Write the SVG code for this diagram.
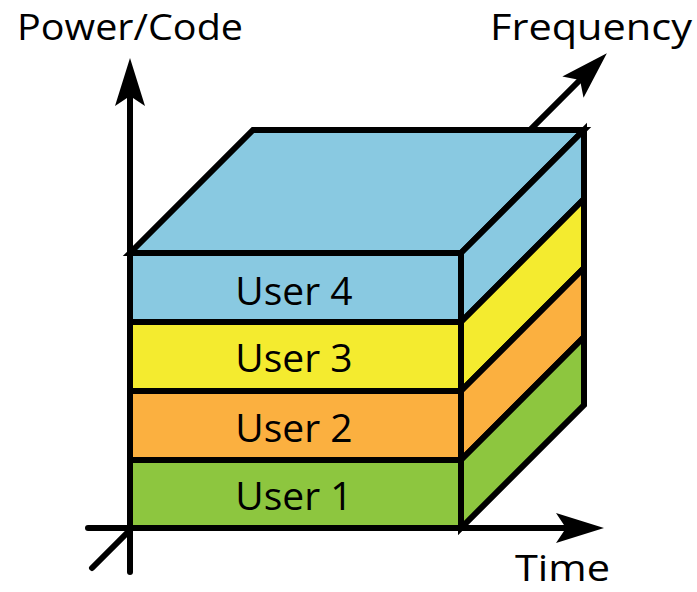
<svg xmlns="http://www.w3.org/2000/svg" width="697" height="592" viewBox="0 0 697 592">
<style>
.face{stroke:#000;stroke-width:6;stroke-linejoin:miter}
.axis{fill:none;stroke:#000;stroke-width:6;stroke-linecap:round}
.lbl{font-family:"Open Sans","Liberation Sans",sans-serif;font-size:37px;fill:#000}
.ulbl{font-family:"Open Sans","Liberation Sans",sans-serif;font-size:39px;fill:#000;text-anchor:middle}
.blue{fill:#89C9E1}.yellow{fill:#F4EB2F}.orange{fill:#FBB040}.green{fill:#8DC63F}
</style>
<defs>
<marker id="arrow" markerUnits="userSpaceOnUse" viewBox="-2 -16 52 32" refX="0" refY="0" markerWidth="52" markerHeight="32" orient="auto" overflow="visible">
<path d="M-10,-15 L38,0 L-10,15 L0,0 Z" fill="#000"/>
</marker>
</defs>
<rect width="697" height="592" fill="#fff"/>
<g id="connectors">
<line class="axis" x1="92" y1="568" x2="580" y2="80" marker-end="url(#arrow)"/>
<line class="axis" x1="130" y1="572" x2="130" y2="96" marker-end="url(#arrow)"/>
<line class="axis" x1="88" y1="528" x2="566" y2="528" marker-end="url(#arrow)"/>
</g>
<g id="top-face">
<polygon class="face blue" points="130,253 253,130 584,130 461,253"/>
</g>
<g id="user4">
<rect class="face blue" x="130" y="253" width="331" height="69"/>
<polygon class="face blue" points="461,253 584,130 584,199 461,322"/>
<text class="ulbl" x="294" y="305">User 4</text>
</g>
<g id="user3">
<rect class="face yellow" x="130" y="322" width="331" height="69"/>
<polygon class="face yellow" points="461,322 584,199 584,268 461,391"/>
<text class="ulbl" x="294" y="372">User 3</text>
</g>
<g id="user2">
<rect class="face orange" x="130" y="391" width="331" height="69"/>
<polygon class="face orange" points="461,391 584,268 584,337 461,460"/>
<text class="ulbl" x="294" y="442">User 2</text>
</g>
<g id="user1">
<rect class="face green" x="130" y="460" width="331" height="68"/>
<polygon class="face green" points="461,460 584,337 584,405 461,528"/>
<text class="ulbl" x="294" y="510">User 1</text>
</g>
<text class="lbl" x="17" y="40" textLength="226" lengthAdjust="spacingAndGlyphs">Power/Code</text>
<text class="lbl" x="490" y="40" textLength="202" lengthAdjust="spacingAndGlyphs">Frequency</text>
<text class="lbl" x="515" y="581" textLength="95" lengthAdjust="spacingAndGlyphs">Time</text>
</svg>
